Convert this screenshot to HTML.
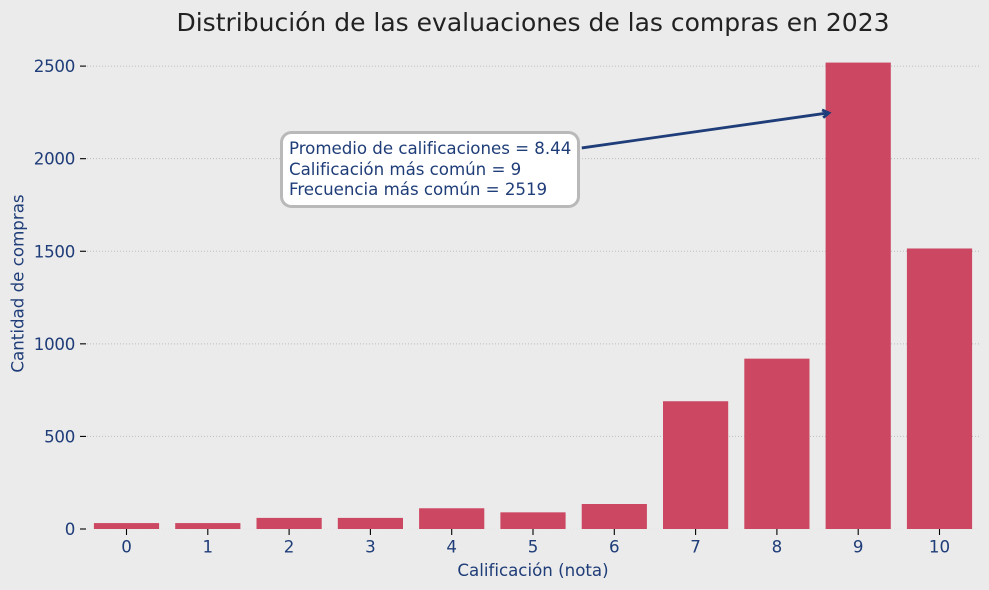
<!DOCTYPE html>
<html lang="es">
<head>
<meta charset="utf-8">
<title>Distribución de las evaluaciones de las compras en 2023</title>
<style>
html,body{margin:0;padding:0;background:#ebebeb;width:989px;height:590px;overflow:hidden}
svg{display:block}
text{font-family:"DejaVu Sans",sans-serif}
</style>
</head>
<body>
<svg id="chart" width="989" height="590" viewBox="0 0 989 590" xmlns="http://www.w3.org/2000/svg">
  <rect x="0" y="0" width="989" height="590" fill="#ebebeb"/>
  <text x="533" y="31" text-anchor="middle" font-size="25" fill="#222222">Distribución de las evaluaciones de las compras en 2023</text>
  <g id="grid"></g>
  <g id="bars"></g>
  <g id="xaxis"></g>
  <g id="yaxis"></g>
  <text x="533" y="576" text-anchor="middle" font-size="16.67" fill="#1f3d78">Calificación (nota)</text>
  <text transform="translate(23.5 283.5) rotate(-90)" text-anchor="middle" font-size="16.67" fill="#1f3d78">Cantidad de compras</text>
  <g id="annotation">
    <line id="arrow-line" stroke="#1f3d78" stroke-width="2.8"/>
    <polyline id="arrow-head" fill="none" stroke="#1f3d78" stroke-width="2.8"/>
    <rect x="281.5" y="132.5" width="297" height="74" rx="10" ry="10" fill="#ffffff" stroke="#b9b9b9" stroke-width="3"/>
    <text x="289" y="154" font-size="16.67" letter-spacing="-0.03" fill="#1f3d78">Promedio de calificaciones = 8.44</text>
    <text x="289" y="175" font-size="16.67" letter-spacing="-0.03" fill="#1f3d78">Calificación más común = 9</text>
    <text x="289" y="195" font-size="16.67" letter-spacing="-0.03" fill="#1f3d78">Frecuencia más común = 2519</text>
  </g>
</svg>
<script>
const categories = [0, 1, 2, 3, 4, 5, 6, 7, 8, 9, 10];
const purchaseCounts = [32, 32, 60, 60, 112, 90, 135, 690, 920, 2519, 1515];
const yTicks = [0, 500, 1000, 1500, 2000, 2500];
const arrowTip = [8.64, 2247];
const arrowTail = [5.60, 2058];

const NS = 'http://www.w3.org/2000/svg';
const xScale = function (v) { return 126.5 + v * 81.3; };
const yScale = function (v) { return 529 - v * 0.18516; };
const BAR_WIDTH = 65.2;

function make(tag, attrs, parent) {
  const el = document.createElementNS(NS, tag);
  Object.keys(attrs).forEach(function (k) { el.setAttribute(k, attrs[k]); });
  parent.appendChild(el);
  return el;
}

const grid = document.getElementById('grid');
const bars = document.getElementById('bars');
const xaxis = document.getElementById('xaxis');
const yaxis = document.getElementById('yaxis');

yTicks.forEach(function (t) {
  const y = yScale(t);
  const line = make('line', { x1: 87, x2: 980, y1: y, y2: y, stroke: '#bdbdbd', 'stroke-width': 1, 'stroke-dasharray': '1 2', opacity: t === 0 ? 0.15 : 1 }, grid);
  
  
  const tick = make('line', { x1: 80, x2: 86, y1: y, y2: y, stroke: '#000000', 'stroke-width': 1.1 }, yaxis);
  
  
  const label = make('text', { x: 75, y: y + 6, 'text-anchor': 'end', 'font-size': 16.67, 'letter-spacing': -0.3, fill: '#1f3d78' }, yaxis);
  label.textContent = String(t);
  
  
});

categories.forEach(function (c, i) {
  const x = xScale(c);
  const top = yScale(purchaseCounts[i]);
  const bar = make('rect', { x: x - BAR_WIDTH / 2, y: top, width: BAR_WIDTH, height: yScale(0) - top, fill: '#cc4862' }, bars);
  
  
  const tick = make('line', { x1: x, x2: x, y1: 529, y2: 535, stroke: '#000000', 'stroke-width': 1.1 }, xaxis);
  
  
  const label = make('text', { x: x, y: 552.5, 'text-anchor': 'middle', 'font-size': 16.67, fill: '#1f3d78' }, xaxis);
  label.textContent = String(c);
  
  
});

const tipX = xScale(arrowTip[0]);
const tipY = yScale(arrowTip[1]);
const tailX = xScale(arrowTail[0]);
const tailY = yScale(arrowTail[1]);
const line = document.getElementById('arrow-line');
line.setAttribute('x1', tailX);
line.setAttribute('y1', tailY);
line.setAttribute('x2', tipX - 1);
line.setAttribute('y2', tipY);
const ang = Math.atan2(tipY - tailY, tipX - tailX);
const len = 7.5;
const spread = 0.55;
const head = [
  [tipX - len * Math.cos(ang - spread), tipY - len * Math.sin(ang - spread)],
  [tipX, tipY],
  [tipX - len * Math.cos(ang + spread), tipY - len * Math.sin(ang + spread)]
];
document.getElementById('arrow-head').setAttribute('points', head.map(function (p) { return p.join(','); }).join(' '));
</script>
</body>
</html>
